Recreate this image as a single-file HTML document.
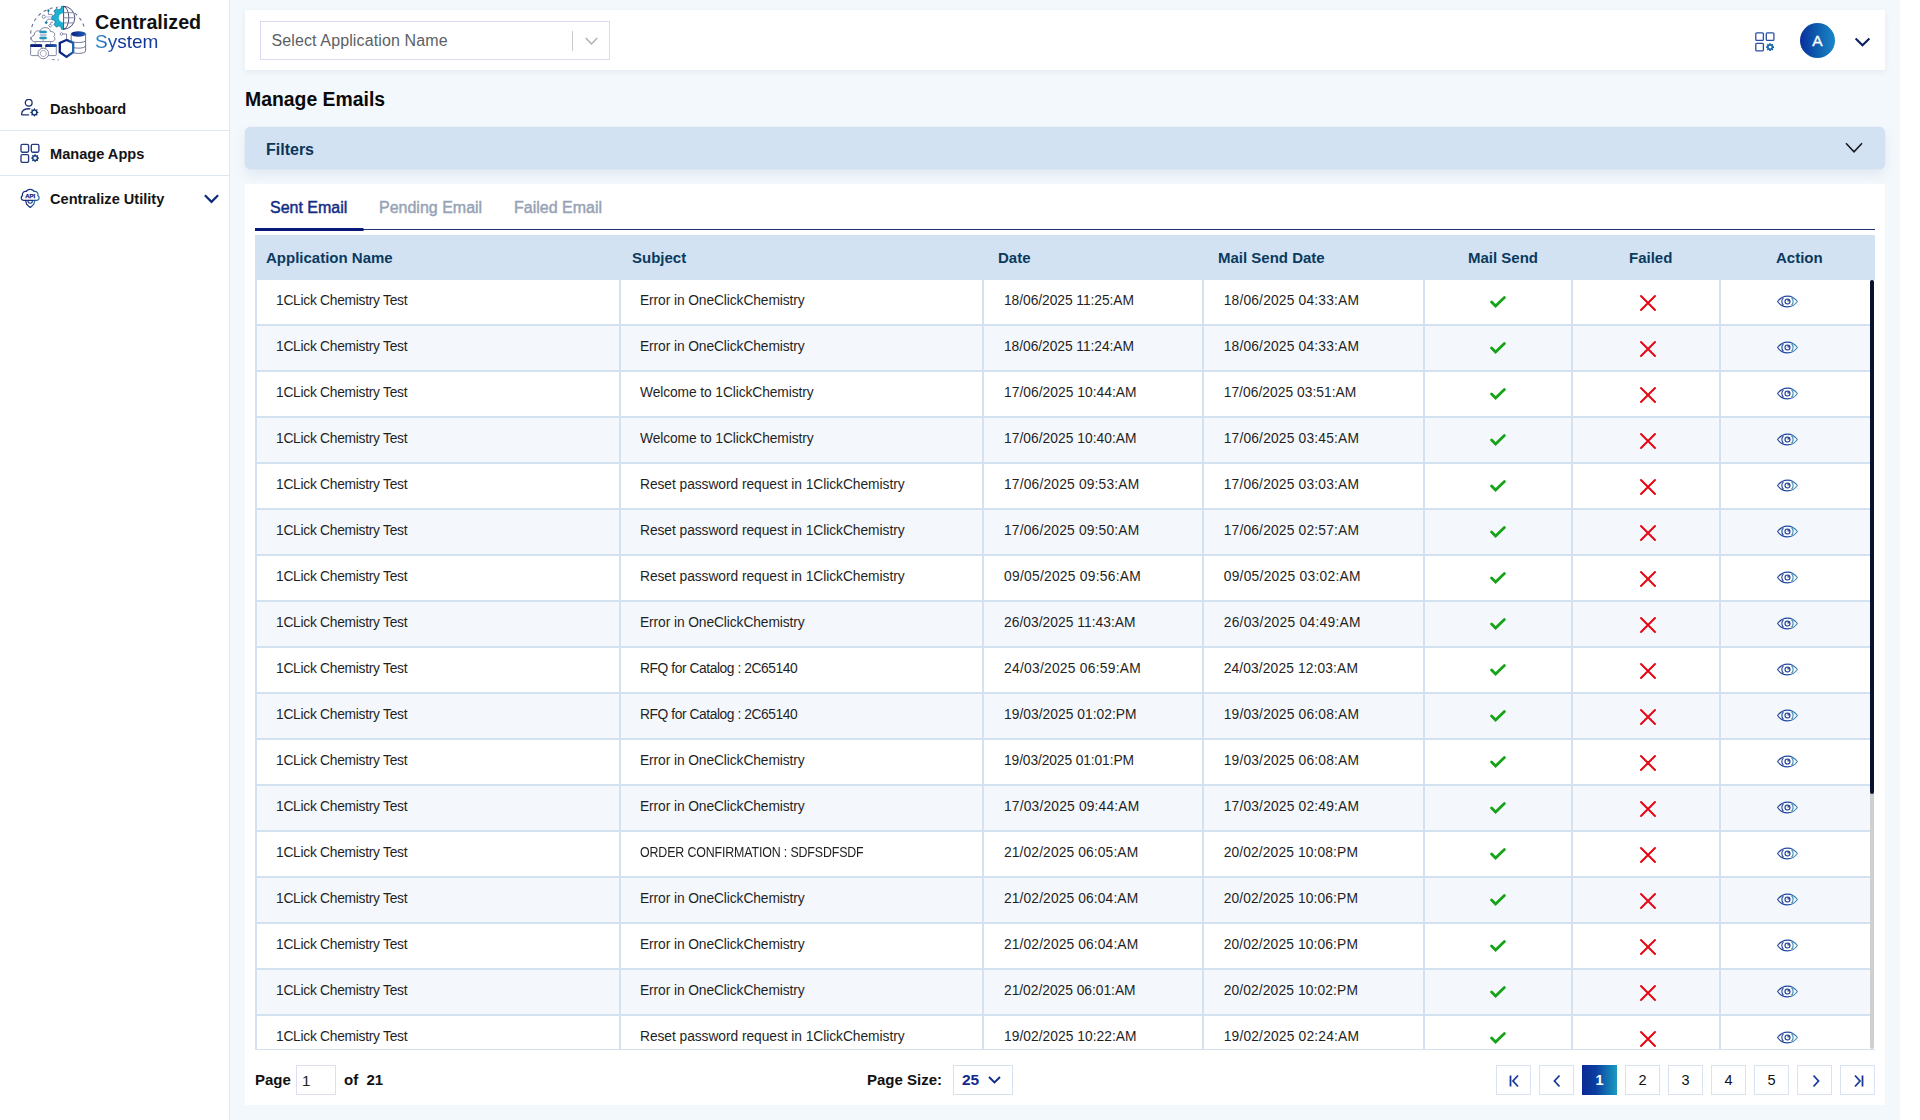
<!DOCTYPE html>
<html><head><meta charset="utf-8"><title>Manage Emails</title>
<style>
*{box-sizing:border-box;margin:0;padding:0}
html,body{width:1920px;height:1120px;overflow:hidden;background:#fff;font-family:"Liberation Sans",sans-serif;color:#1b1b1b}
#main{position:absolute;left:230px;top:0;width:1670px;height:1120px;background:#f3f8fc}
#sidebar{position:absolute;left:0;top:0;width:230px;height:1120px;background:#fff;border-right:1px solid #e3e9f1}
#logo{position:absolute;left:26px;top:3px;width:62px;height:62px}
#brand1{position:absolute;left:95px;top:10.5px;font-size:19.7px;font-weight:700;color:#111;white-space:nowrap}
#brand2{position:absolute;left:95px;top:30.8px;font-size:19px;color:#1a56b0;background:linear-gradient(90deg,#2a92cc 0%,#1d66b6 17%,#10359a 38%,#0f3194 70%,#17409f 100%);-webkit-background-clip:text;background-clip:text;-webkit-text-fill-color:transparent}
.nav{position:absolute;left:0;width:229px;height:45px}
.nav .t{position:absolute;left:50px;font-size:14.6px;font-weight:700;color:#141414;white-space:nowrap}
.nav svg{position:absolute}
.dv{position:absolute;left:0;width:229px;height:1px;background:#dde7f2}
#topbar{position:absolute;left:245px;top:10px;width:1640px;height:60px;background:#fff;box-shadow:0 2px 6px rgba(120,140,170,.12)}
#sel{position:absolute;left:15px;top:11px;width:350px;height:39px;border:1px solid #ded9f3;background:#fff}
#sel .ph{position:absolute;left:10.5px;top:10px;font-size:16px;color:#5c5f64;white-space:nowrap;letter-spacing:.12px}
#sel .sep{position:absolute;left:311px;top:9px;width:1px;height:20px;background:#c9c9c9}
#title{position:absolute;left:245px;top:88px;font-size:19.4px;font-weight:700;color:#0a0a0a;white-space:nowrap}
#filters{position:absolute;left:245px;top:127px;width:1640px;height:42px;background:#d2e2f3;border-radius:6px;box-shadow:0 0 1px rgba(120,140,170,.35),0 6px 12px rgba(130,155,195,.16)}
#filters .t{position:absolute;left:21px;top:14px;font-size:16px;font-weight:700;color:#0b3556}
#card{position:absolute;left:245px;top:184px;width:1640px;height:921px;background:#fff}
.tab{position:absolute;top:15px;font-size:16px;white-space:nowrap;-webkit-text-stroke:.45px currentColor}
#tabline{position:absolute;left:10px;top:45px;width:1620px;height:1px;background:#213774}
#tabact{position:absolute;left:10px;top:44px;width:109px;height:3px;background:#08197a;border-radius:0 2px 2px 0}
#thead{position:absolute;left:10px;top:51px;width:1620px;height:45px;background:#d2e2f3}
#thead div{position:absolute;top:13.5px;font-size:15px;font-weight:700;color:#0b3a5e;white-space:nowrap}
#tbody{position:absolute;left:255px;top:280px;width:1620px;height:770px;overflow:hidden}
#tbody .bb{position:absolute;left:0;top:769px;width:1620px;height:1px;background:#d3e1f1}
.row{position:absolute;left:0;width:1614.5px;height:46px;border-bottom:2px solid #d3e1f1}
.row.alt{background:#f4f8fd}
.row .c{position:absolute;top:0;height:44px;border-left:2px solid #d3e1f1}
.row .tx{position:absolute;top:12.5px;font-size:13.8px;color:#1f1f1f;white-space:nowrap}
.row .ic{position:absolute}
#sbtrack{position:absolute;left:1614.8px;top:0;width:4.4px;height:769px;background:#cfcfcf;border-radius:2px}
#sbthumb{position:absolute;left:1614.8px;top:0;width:4.4px;height:514px;background:#08132f;border-radius:2px}
.pg{position:absolute;top:1065px;width:35px;height:30px;border:1px solid #d9e2f0;background:#fff;font-size:14.5px;text-align:center;line-height:29px;color:#111}
.pg svg{position:absolute;left:0;top:0}
.pg.act{border:none;background:linear-gradient(90deg,#0a2a96,#0c3ea0 40%,#1a9cc2);color:#fff}
#pgl{position:absolute;left:255px;top:1071px;font-size:15px;font-weight:700;color:#111;white-space:nowrap}
#pgin{position:absolute;left:296px;top:1065px;width:40px;height:30px;border:1px solid #e0dcf3;background:#fff}
#pgin span{position:absolute;left:5px;top:6px;font-size:15px;color:#222}
#pgof{position:absolute;left:344px;top:1071px;font-size:15px;font-weight:700;color:#111;white-space:nowrap}
#pgsz{position:absolute;left:867px;top:1071px;font-size:15px;font-weight:700;color:#111;white-space:nowrap}
#pgsel{position:absolute;left:953px;top:1065px;width:60px;height:30px;border:1px solid #d3e1f1;background:#fff}
#pgsel span{position:absolute;left:8px;top:5px;font-size:15.5px;font-weight:700;color:#12298c}
</style></head>
<body>
<svg width="0" height="0" style="position:absolute">
<defs>
<linearGradient id="eyeg" x1="0" x2="1" y1="0" y2="0"><stop offset="0" stop-color="#1c3d95"/><stop offset=".6" stop-color="#1f4aa0"/><stop offset="1" stop-color="#3a8cb0"/></linearGradient>
<linearGradient id="navyg" x1="0" x2="1" y1="0" y2="0"><stop offset="0" stop-color="#2a4aa0"/><stop offset="1" stop-color="#1f5fa8"/></linearGradient>
<symbol id="chk" viewBox="0 0 16 12"><polyline points="1.6,6 5.6,10 14.4,1.6" fill="none" stroke="#17a317" stroke-width="2.8" stroke-linecap="round" stroke-linejoin="miter"/></symbol>
<symbol id="xx" viewBox="0 0 18 18"><path d="M2 2L16 16M16 2L2 16" stroke="#e30613" stroke-width="2" stroke-linecap="round"/></symbol>
<symbol id="eye" viewBox="0 0 24 14"><path d="M1.3 7C4.6 2.5 8 1.2 12 1.2S19.4 2.5 22.7 7C19.4 11.5 16 12.8 12 12.8S4.6 11.5 1.3 7Z" fill="none" stroke="url(#eyeg)" stroke-width="1.15"/><path d="M7.6 3A5.6 5.6 0 0 0 7.6 11M16.4 3A5.6 5.6 0 0 1 16.4 11" fill="none" stroke="url(#eyeg)" stroke-width="1.15"/><circle cx="12" cy="7" r="2.7" fill="none" stroke="#1c3d95" stroke-width="1.2"/><path d="M12 4.3A2.7 2.7 0 0 1 14.7 7L12 7Z" fill="#1c3d95" opacity=".85"/></symbol>
</defs></svg>
<div id="main"></div>

<div id="sidebar">
  <svg id="logo" viewBox="0 0 62 62">
    <defs>
      <linearGradient id="shg" x1="0" x2="1"><stop offset="0" stop-color="#0a1f82"/><stop offset=".55" stop-color="#0d2c8e"/><stop offset="1" stop-color="#1c66b2"/></linearGradient>
      <linearGradient id="dbg" x1="0" x2="1"><stop offset="0" stop-color="#0a1f82"/><stop offset="1" stop-color="#1f5fb5"/></linearGradient>
      <clipPath id="lh"><rect x="20" y="0" width="17.3" height="30"/></clipPath>
    </defs>
    <path d="M5.2 37.1 A27.3 27.3 0 0 1 58.5 25.3" fill="none" stroke="#6b7290" stroke-width="1.1" stroke-dasharray="3.2 3.4"/>
    <path d="M25.8 56.6H28.8M31.5 56.9H33" stroke="#8a8fa6" stroke-width="1"/>
    <circle cx="37.3" cy="14.8" r="11.7" fill="#fff"/>
    <path clip-path="url(#lh)" d="M46.28 17.21 L48.76 16.61 L48.76 12.99 L46.28 12.39 L45.35 10.15 L46.68 7.98 L44.12 5.42 L41.95 6.75 L39.71 5.82 L39.11 3.34 L35.49 3.34 L34.89 5.82 L32.65 6.75 L30.48 5.42 L27.92 7.98 L29.25 10.15 L28.32 12.39 L25.84 12.99 L25.84 16.61 L28.32 17.21 L29.25 19.45 L27.92 21.62 L30.48 24.18 L32.65 22.85 L34.89 23.78 L35.49 26.26 L39.11 26.26 L39.71 23.78 L41.95 22.85 L44.12 24.18 L46.68 21.62 L45.35 19.45Z" fill="#1fb0d2" stroke="#0f6f92" stroke-width=".7"/>
    <path d="M37.3 10.2 A4.6 4.6 0 0 0 37.3 19.4Z" fill="#fff"/>
    <g fill="none" stroke="#2b3266" stroke-width=".85">
      <path d="M37.3 3.3 A11.5 11.5 0 0 1 37.3 26.3"/>
      <path d="M37.3 3.3 A5.5 11.5 0 0 1 37.3 26.3"/>
      <path d="M37.6 3.3 V26.3"/>
      <path d="M37.3 14.8 H48.8 M37.6 9.7 H47.5 M37.6 19.9 H47.5" stroke="#6c7290"/>
    </g>
    <g fill="none" stroke="#6c7290" stroke-width=".8">
      <path d="M19.4 13.7 H26 M22.4 9.5 V11.4 H26.5 M20.2 18.6 L22 16.2 H26.5 M24.3 21.4 L25.2 19.2 H27"/>
      <circle cx="17.75" cy="13.7" r="1.6"/>
      <rect x="23.2" y="21.5" width="2.3" height="2.3" transform="rotate(45 24.3 22.6)"/>
    </g>
    <path d="M19.4 13.7 H25.8" stroke="#d8d6f2" stroke-width="1.4"/>
    <g fill="#15709a"><path d="M22.4 6.3 C23.8 6.3 23.9 8.3 22.4 9.7 C20.9 8.3 21 6.3 22.4 6.3Z"/><rect x="19.1" y="18.4" width="2.3" height="2.3" transform="rotate(45 20.2 19.5)"/></g>
    <!-- cloud -->
    <path d="M8.3 38.6 C4.8 38.6 4.4 32.6 8.2 32.2 C8 28.6 11.4 27 13.8 28.2 C15.3 23.4 23.6 23.2 24.6 28.6 C28.2 28.2 30 31.6 27.8 33.4 C30 35.6 28.4 38.6 26 38.6 Z" fill="#fff" stroke="#787c96" stroke-width=".95"/>
    <g fill="#24a9cf" stroke="#0f6f92" stroke-width=".5"><rect x="13.6" y="27.9" width="7" height="2" rx=".9"/><rect x="13.6" y="33.9" width="7" height="2" rx=".9"/></g>
    <rect x="13.6" y="30.9" width="7" height="2" rx=".9" fill="#b9c2d6"/>
    <path d="M17.1 35.9 V39.2" stroke="#9aa7c8" stroke-width="1.2"/>
    <path d="M9.2 38.6 V41.2 M24.5 38.6 V41.2" stroke="#8a8fa6" stroke-width=".8"/>
    <!-- windows -->
    <rect x="4.6" y="41.5" width="11.1" height="11.1" rx="1" fill="#fff" stroke="#6b7290" stroke-width=".85"/>
    <rect x="4.2" y="41.2" width="11.9" height="2.7" rx="1" fill="#0a1f82"/>
    <rect x="19.7" y="41.5" width="10.6" height="11.1" rx="1" fill="#fff" stroke="#6b7290" stroke-width=".85"/>
    <rect x="19.3" y="41.2" width="11.4" height="2.7" rx="1" fill="url(#dbg)"/>
    <circle cx="17.3" cy="50.5" r="5.3" fill="#fff" stroke="#6b7290" stroke-width=".85"/>
    <circle cx="17.3" cy="50.5" r="3" fill="none" stroke="#6b7290" stroke-width=".85" stroke-dasharray="1.4 .6"/>
    <!-- db -->
    <path d="M45.2 31 V48 C45.2 51.2 59.6 51.2 59.6 48 V31" fill="#fff" stroke="#6b7290" stroke-width=".95"/>
    <path d="M45.2 37.3 C45.2 40.3 59.6 40.3 59.6 37.3 M45.2 42.9 C45.2 45.9 59.6 45.9 59.6 42.9" fill="none" stroke="#6b7290" stroke-width=".95"/>
    <ellipse cx="52.4" cy="31" rx="7.4" ry="2.7" fill="url(#dbg)"/>
    <!-- shield -->
    <path d="M40.5 36.9 L47.2 40 V49.2 L40.5 53.9 L33.8 49.2 V40 Z" fill="#fff" stroke="url(#shg)" stroke-width="2.3" stroke-linejoin="miter"/>
    <path d="M36.8 31 H40.5 V35.8" fill="none" stroke="#6b7290" stroke-width=".85"/>
    <rect x="34.3" y="29.9" width="2.2" height="2.2" transform="rotate(45 35.4 31)" fill="#fff" stroke="#6b7290" stroke-width=".8"/>
  </svg>
  <div id="brand1">Centralized</div>
  <div id="brand2">System</div>

  <div class="nav" style="top:86px">
    <svg style="left:20px;top:13px" width="20" height="18" viewBox="0 0 20 18">
      <circle cx="8.7" cy="3.75" r="3.4" fill="none" stroke="#1b2d70" stroke-width="1.3"/>
      <path d="M9.7 9.7 C5 9.5 1.6 11.3 1.6 15 Q1.6 15.9 2.5 15.9 H8.6" fill="none" stroke="#1f3378" stroke-width="1.4" stroke-linecap="round"/>
      <path fill-rule="evenodd" fill="#0f3673" d="M14.40 9.00 L13.25 10.63 L11.29 10.29 L11.63 12.25 L10.00 13.40 L11.63 14.55 L11.29 16.51 L13.25 16.17 L14.40 17.80 L15.55 16.17 L17.51 16.51 L17.17 14.55 L18.80 13.40 L17.17 12.25 L17.51 10.29 L15.55 10.63ZM16.15 13.40 A1.75 1.75 0 1 0 12.65 13.40 A1.75 1.75 0 1 0 16.15 13.40Z"/>
    </svg>
    <div class="t" style="top:15px">Dashboard</div>
  </div>
  <div class="dv" style="top:130px"></div>
  <div class="nav" style="top:131px">
    <svg style="left:20px;top:12px" width="20" height="20" viewBox="0 0 20 20">
      <g fill="none" stroke="#25397f" stroke-width="1.35"><rect x="1" y="1.4" width="7.6" height="7.8" rx="1.4"/><rect x="11.3" y="1.4" width="7.6" height="7.8" rx="1.4"/><rect x="1" y="11.6" width="7.6" height="7.8" rx="1.4"/></g>
      <path fill-rule="evenodd" fill="#0d3a78" d="M15.10 10.80 L13.99 12.42 L12.06 12.06 L12.42 13.99 L10.80 15.10 L12.42 16.21 L12.06 18.14 L13.99 17.78 L15.10 19.40 L16.21 17.78 L18.14 18.14 L17.78 16.21 L19.40 15.10 L17.78 13.99 L18.14 12.06 L16.21 12.42ZM16.80 15.10 A1.7 1.7 0 1 0 13.40 15.10 A1.7 1.7 0 1 0 16.80 15.10Z"/>
    </svg>
    <div class="t" style="top:15px">Manage Apps</div>
  </div>
  <div class="dv" style="top:175px"></div>
  <div class="nav" style="top:176px">
    <svg style="left:20px;top:12px" width="21" height="21" viewBox="0 0 21 21">
      <defs><linearGradient id="apig" x1="0" x2="1"><stop offset="0" stop-color="#142a78"/><stop offset=".6" stop-color="#1a3684"/><stop offset="1" stop-color="#2a76aa"/></linearGradient></defs>
      <path d="M3.6 12.4 C0.9 12.2 0.4 8.8 2.5 7.6 C1.8 4.9 3.9 3 6.3 3.5 C7.3 0.7 12.9 0.5 14.1 3.5 C16.6 3 18.6 4.9 17.9 7.6 C20 8.8 19.5 12.2 16.8 12.4 Z" fill="none" stroke="url(#apig)" stroke-width="1.25" stroke-linejoin="round"/>
      <text x="10.2" y="10.1" text-anchor="middle" font-family="Liberation Sans" font-weight="700" font-size="6" fill="#14237a" stroke="#14237a" stroke-width=".25">API</text>
      <path d="M5.6 12.6 L6.6 16.2 L8.4 17.9 L10.2 19.4 L12 17.9 L13.8 16.2 L14.8 12.6" fill="none" stroke="url(#apig)" stroke-width="1.25" stroke-linejoin="round"/>
      <path d="M8 12.8 A2.2 2.4 0 0 0 12.4 12.8" fill="none" stroke="#1a3080" stroke-width="1.1"/>
    </svg>
    <div class="t" style="top:15px">Centralize Utility</div>
    <svg style="left:204px;top:17.5px" width="15" height="10" viewBox="0 0 15 10"><polyline points="0.9,1.3 7.5,7.9 14.1,1.3" fill="none" stroke="#0d2a7c" stroke-width="2.2"/></svg>
  </div>
</div>

<div id="topbar">
  <div id="sel"><div class="ph">Select Application Name</div><div class="sep"></div>
    <svg style="position:absolute;left:324px;top:15px" width="13" height="9" viewBox="0 0 13 9"><polyline points="0.8,1 6.5,7 12.2,1" fill="none" stroke="#b0b0b0" stroke-width="1.5"/></svg>
  </div>
  <svg style="position:absolute;left:1510px;top:22px" width="20" height="20" viewBox="0 0 20 20">
    <g fill="none" stroke="#2a4ea2" stroke-width="1.3"><rect x=".8" y=".8" width="7.6" height="7.6" rx="1"/><rect x="11.3" y=".8" width="7.6" height="7.6" rx="1"/><rect x=".8" y="11.3" width="7.6" height="7.6" rx="1"/></g>
    <circle cx="15.1" cy="15.1" r="2.3" fill="none" stroke="#1a66b0" stroke-width="1.7"/>
    <path d="M15.1 11.2V12.4M15.1 17.8V19M11.2 15.1H12.4M17.8 15.1H19M12.3 12.3L13.2 13.2M17 17L17.9 17.9M17.9 12.3L17 13.2M13.2 17L12.3 17.9" stroke="#1a66b0" stroke-width="1.7"/>
  </svg>
  <div style="position:absolute;left:1555px;top:13px;width:35px;height:35px;border-radius:50%;background:linear-gradient(90deg,#0a2f9c,#0f5fb0 50%,#1a86c6);color:#fff;text-align:center;line-height:35px;font-size:15.5px;-webkit-text-stroke:.35px #fff">A</div>
  <svg style="position:absolute;left:1609px;top:27px" width="17" height="11" viewBox="0 0 17 11"><polyline points="1.6,1.6 8.5,8.2 15.4,1.6" fill="none" stroke="#0a1f5c" stroke-width="2.1"/></svg>
</div>

<div id="title">Manage Emails</div>
<div id="filters"><div class="t">Filters</div>
  <svg style="position:absolute;left:1600px;top:15px" width="18" height="12" viewBox="0 0 18 12"><polyline points="1,1.3 9,9.8 17,1.3" fill="none" stroke="#151a22" stroke-width="1.6"/></svg>
</div>

<div id="card">
  <div class="tab" style="left:25px;color:#132c86">Sent Email</div>
  <div class="tab" style="left:134px;color:#97a3b6">Pending Email</div>
  <div class="tab" style="left:269px;color:#97a3b6">Failed Email</div>
  <div id="tabline"></div><div id="tabact"></div>
  <div id="thead">
    <div style="left:11px">Application Name</div>
    <div style="left:377px">Subject</div>
    <div style="left:743px">Date</div>
    <div style="left:963px">Mail Send Date</div>
    <div style="left:1213px">Mail Send</div>
    <div style="left:1374px">Failed</div>
    <div style="left:1521px">Action</div>
  </div>
</div>

<div id="tbody">
<div class="row" style="top:0px"><div class="c" style="left:0px;width:364px"></div><div class="c" style="left:364px;width:363px"></div><div class="c" style="left:727px;width:220px"></div><div class="c" style="left:947px;width:221px"></div><div class="c" style="left:1168px;width:148px"></div><div class="c" style="left:1316px;width:148px"></div><div class="c" style="left:1464px;width:150.5px"></div><div class="tx" style="left:21px;letter-spacing:-0.275px">1CLick Chemistry Test</div><div class="tx" style="left:385px;letter-spacing:-0.097px">Error in OneClickChemistry</div><div class="tx" style="left:749px;letter-spacing:-0.051px">18/06/2025 11:25:AM</div><div class="tx" style="left:968.7px;letter-spacing:0.181px">18/06/2025 04:33:AM</div><svg class="ic" style="left:1235px;top:16px" width="16" height="12"><use href="#chk"/></svg><svg class="ic" style="left:1384px;top:14px" width="18" height="18"><use href="#xx"/></svg><svg class="ic" style="left:1520.5px;top:14.5px" width="23" height="13"><use href="#eye"/></svg></div>
<div class="row alt" style="top:46px"><div class="c" style="left:0px;width:364px"></div><div class="c" style="left:364px;width:363px"></div><div class="c" style="left:727px;width:220px"></div><div class="c" style="left:947px;width:221px"></div><div class="c" style="left:1168px;width:148px"></div><div class="c" style="left:1316px;width:148px"></div><div class="c" style="left:1464px;width:150.5px"></div><div class="tx" style="left:21px;letter-spacing:-0.275px">1CLick Chemistry Test</div><div class="tx" style="left:385px;letter-spacing:-0.097px">Error in OneClickChemistry</div><div class="tx" style="left:749px;letter-spacing:-0.051px">18/06/2025 11:24:AM</div><div class="tx" style="left:968.7px;letter-spacing:0.181px">18/06/2025 04:33:AM</div><svg class="ic" style="left:1235px;top:16px" width="16" height="12"><use href="#chk"/></svg><svg class="ic" style="left:1384px;top:14px" width="18" height="18"><use href="#xx"/></svg><svg class="ic" style="left:1520.5px;top:14.5px" width="23" height="13"><use href="#eye"/></svg></div>
<div class="row" style="top:92px"><div class="c" style="left:0px;width:364px"></div><div class="c" style="left:364px;width:363px"></div><div class="c" style="left:727px;width:220px"></div><div class="c" style="left:947px;width:221px"></div><div class="c" style="left:1168px;width:148px"></div><div class="c" style="left:1316px;width:148px"></div><div class="c" style="left:1464px;width:150.5px"></div><div class="tx" style="left:21px;letter-spacing:-0.275px">1CLick Chemistry Test</div><div class="tx" style="left:385px;letter-spacing:-0.099px">Welcome to 1ClickChemistry</div><div class="tx" style="left:749px;letter-spacing:0.036px">17/06/2025 10:44:AM</div><div class="tx" style="left:968.7px;letter-spacing:0.036px">17/06/2025 03:51:AM</div><svg class="ic" style="left:1235px;top:16px" width="16" height="12"><use href="#chk"/></svg><svg class="ic" style="left:1384px;top:14px" width="18" height="18"><use href="#xx"/></svg><svg class="ic" style="left:1520.5px;top:14.5px" width="23" height="13"><use href="#eye"/></svg></div>
<div class="row alt" style="top:138px"><div class="c" style="left:0px;width:364px"></div><div class="c" style="left:364px;width:363px"></div><div class="c" style="left:727px;width:220px"></div><div class="c" style="left:947px;width:221px"></div><div class="c" style="left:1168px;width:148px"></div><div class="c" style="left:1316px;width:148px"></div><div class="c" style="left:1464px;width:150.5px"></div><div class="tx" style="left:21px;letter-spacing:-0.275px">1CLick Chemistry Test</div><div class="tx" style="left:385px;letter-spacing:-0.099px">Welcome to 1ClickChemistry</div><div class="tx" style="left:749px;letter-spacing:0.036px">17/06/2025 10:40:AM</div><div class="tx" style="left:968.7px;letter-spacing:0.181px">17/06/2025 03:45:AM</div><svg class="ic" style="left:1235px;top:16px" width="16" height="12"><use href="#chk"/></svg><svg class="ic" style="left:1384px;top:14px" width="18" height="18"><use href="#xx"/></svg><svg class="ic" style="left:1520.5px;top:14.5px" width="23" height="13"><use href="#eye"/></svg></div>
<div class="row" style="top:184px"><div class="c" style="left:0px;width:364px"></div><div class="c" style="left:364px;width:363px"></div><div class="c" style="left:727px;width:220px"></div><div class="c" style="left:947px;width:221px"></div><div class="c" style="left:1168px;width:148px"></div><div class="c" style="left:1316px;width:148px"></div><div class="c" style="left:1464px;width:150.5px"></div><div class="tx" style="left:21px;letter-spacing:-0.275px">1CLick Chemistry Test</div><div class="tx" style="left:385px;letter-spacing:-0.056px">Reset password request in 1ClickChemistry</div><div class="tx" style="left:749px;letter-spacing:0.181px">17/06/2025 09:53:AM</div><div class="tx" style="left:968.7px;letter-spacing:0.181px">17/06/2025 03:03:AM</div><svg class="ic" style="left:1235px;top:16px" width="16" height="12"><use href="#chk"/></svg><svg class="ic" style="left:1384px;top:14px" width="18" height="18"><use href="#xx"/></svg><svg class="ic" style="left:1520.5px;top:14.5px" width="23" height="13"><use href="#eye"/></svg></div>
<div class="row alt" style="top:230px"><div class="c" style="left:0px;width:364px"></div><div class="c" style="left:364px;width:363px"></div><div class="c" style="left:727px;width:220px"></div><div class="c" style="left:947px;width:221px"></div><div class="c" style="left:1168px;width:148px"></div><div class="c" style="left:1316px;width:148px"></div><div class="c" style="left:1464px;width:150.5px"></div><div class="tx" style="left:21px;letter-spacing:-0.275px">1CLick Chemistry Test</div><div class="tx" style="left:385px;letter-spacing:-0.056px">Reset password request in 1ClickChemistry</div><div class="tx" style="left:749px;letter-spacing:0.181px">17/06/2025 09:50:AM</div><div class="tx" style="left:968.7px;letter-spacing:0.181px">17/06/2025 02:57:AM</div><svg class="ic" style="left:1235px;top:16px" width="16" height="12"><use href="#chk"/></svg><svg class="ic" style="left:1384px;top:14px" width="18" height="18"><use href="#xx"/></svg><svg class="ic" style="left:1520.5px;top:14.5px" width="23" height="13"><use href="#eye"/></svg></div>
<div class="row" style="top:276px"><div class="c" style="left:0px;width:364px"></div><div class="c" style="left:364px;width:363px"></div><div class="c" style="left:727px;width:220px"></div><div class="c" style="left:947px;width:221px"></div><div class="c" style="left:1168px;width:148px"></div><div class="c" style="left:1316px;width:148px"></div><div class="c" style="left:1464px;width:150.5px"></div><div class="tx" style="left:21px;letter-spacing:-0.275px">1CLick Chemistry Test</div><div class="tx" style="left:385px;letter-spacing:-0.056px">Reset password request in 1ClickChemistry</div><div class="tx" style="left:749px;letter-spacing:0.27px">09/05/2025 09:56:AM</div><div class="tx" style="left:968.7px;letter-spacing:0.27px">09/05/2025 03:02:AM</div><svg class="ic" style="left:1235px;top:16px" width="16" height="12"><use href="#chk"/></svg><svg class="ic" style="left:1384px;top:14px" width="18" height="18"><use href="#xx"/></svg><svg class="ic" style="left:1520.5px;top:14.5px" width="23" height="13"><use href="#eye"/></svg></div>
<div class="row alt" style="top:322px"><div class="c" style="left:0px;width:364px"></div><div class="c" style="left:364px;width:363px"></div><div class="c" style="left:727px;width:220px"></div><div class="c" style="left:947px;width:221px"></div><div class="c" style="left:1168px;width:148px"></div><div class="c" style="left:1316px;width:148px"></div><div class="c" style="left:1464px;width:150.5px"></div><div class="tx" style="left:21px;letter-spacing:-0.275px">1CLick Chemistry Test</div><div class="tx" style="left:385px;letter-spacing:-0.097px">Error in OneClickChemistry</div><div class="tx" style="left:749px;letter-spacing:0.038px">26/03/2025 11:43:AM</div><div class="tx" style="left:968.7px;letter-spacing:0.27px">26/03/2025 04:49:AM</div><svg class="ic" style="left:1235px;top:16px" width="16" height="12"><use href="#chk"/></svg><svg class="ic" style="left:1384px;top:14px" width="18" height="18"><use href="#xx"/></svg><svg class="ic" style="left:1520.5px;top:14.5px" width="23" height="13"><use href="#eye"/></svg></div>
<div class="row" style="top:368px"><div class="c" style="left:0px;width:364px"></div><div class="c" style="left:364px;width:363px"></div><div class="c" style="left:727px;width:220px"></div><div class="c" style="left:947px;width:221px"></div><div class="c" style="left:1168px;width:148px"></div><div class="c" style="left:1316px;width:148px"></div><div class="c" style="left:1464px;width:150.5px"></div><div class="tx" style="left:21px;letter-spacing:-0.275px">1CLick Chemistry Test</div><div class="tx" style="left:385px;letter-spacing:-0.428px">RFQ for Catalog : 2C65140</div><div class="tx" style="left:749px;letter-spacing:0.27px">24/03/2025 06:59:AM</div><div class="tx" style="left:968.7px;letter-spacing:0.125px">24/03/2025 12:03:AM</div><svg class="ic" style="left:1235px;top:16px" width="16" height="12"><use href="#chk"/></svg><svg class="ic" style="left:1384px;top:14px" width="18" height="18"><use href="#xx"/></svg><svg class="ic" style="left:1520.5px;top:14.5px" width="23" height="13"><use href="#eye"/></svg></div>
<div class="row alt" style="top:414px"><div class="c" style="left:0px;width:364px"></div><div class="c" style="left:364px;width:363px"></div><div class="c" style="left:727px;width:220px"></div><div class="c" style="left:947px;width:221px"></div><div class="c" style="left:1168px;width:148px"></div><div class="c" style="left:1316px;width:148px"></div><div class="c" style="left:1464px;width:150.5px"></div><div class="tx" style="left:21px;letter-spacing:-0.275px">1CLick Chemistry Test</div><div class="tx" style="left:385px;letter-spacing:-0.428px">RFQ for Catalog : 2C65140</div><div class="tx" style="left:749px;letter-spacing:0.036px">19/03/2025 01:02:PM</div><div class="tx" style="left:968.7px;letter-spacing:0.181px">19/03/2025 06:08:AM</div><svg class="ic" style="left:1235px;top:16px" width="16" height="12"><use href="#chk"/></svg><svg class="ic" style="left:1384px;top:14px" width="18" height="18"><use href="#xx"/></svg><svg class="ic" style="left:1520.5px;top:14.5px" width="23" height="13"><use href="#eye"/></svg></div>
<div class="row" style="top:460px"><div class="c" style="left:0px;width:364px"></div><div class="c" style="left:364px;width:363px"></div><div class="c" style="left:727px;width:220px"></div><div class="c" style="left:947px;width:221px"></div><div class="c" style="left:1168px;width:148px"></div><div class="c" style="left:1316px;width:148px"></div><div class="c" style="left:1464px;width:150.5px"></div><div class="tx" style="left:21px;letter-spacing:-0.275px">1CLick Chemistry Test</div><div class="tx" style="left:385px;letter-spacing:-0.097px">Error in OneClickChemistry</div><div class="tx" style="left:749px;letter-spacing:-0.108px">19/03/2025 01:01:PM</div><div class="tx" style="left:968.7px;letter-spacing:0.181px">19/03/2025 06:08:AM</div><svg class="ic" style="left:1235px;top:16px" width="16" height="12"><use href="#chk"/></svg><svg class="ic" style="left:1384px;top:14px" width="18" height="18"><use href="#xx"/></svg><svg class="ic" style="left:1520.5px;top:14.5px" width="23" height="13"><use href="#eye"/></svg></div>
<div class="row alt" style="top:506px"><div class="c" style="left:0px;width:364px"></div><div class="c" style="left:364px;width:363px"></div><div class="c" style="left:727px;width:220px"></div><div class="c" style="left:947px;width:221px"></div><div class="c" style="left:1168px;width:148px"></div><div class="c" style="left:1316px;width:148px"></div><div class="c" style="left:1464px;width:150.5px"></div><div class="tx" style="left:21px;letter-spacing:-0.275px">1CLick Chemistry Test</div><div class="tx" style="left:385px;letter-spacing:-0.097px">Error in OneClickChemistry</div><div class="tx" style="left:749px;letter-spacing:0.181px">17/03/2025 09:44:AM</div><div class="tx" style="left:968.7px;letter-spacing:0.181px">17/03/2025 02:49:AM</div><svg class="ic" style="left:1235px;top:16px" width="16" height="12"><use href="#chk"/></svg><svg class="ic" style="left:1384px;top:14px" width="18" height="18"><use href="#xx"/></svg><svg class="ic" style="left:1520.5px;top:14.5px" width="23" height="13"><use href="#eye"/></svg></div>
<div class="row" style="top:552px"><div class="c" style="left:0px;width:364px"></div><div class="c" style="left:364px;width:363px"></div><div class="c" style="left:727px;width:220px"></div><div class="c" style="left:947px;width:221px"></div><div class="c" style="left:1168px;width:148px"></div><div class="c" style="left:1316px;width:148px"></div><div class="c" style="left:1464px;width:150.5px"></div><div class="tx" style="left:21px;letter-spacing:-0.275px">1CLick Chemistry Test</div><div class="tx" style="left:385px;letter-spacing:-0.15px;transform:scaleX(0.898);transform-origin:0 0">ORDER CONFIRMATION : SDFSDFSDF</div><div class="tx" style="left:749px;letter-spacing:0.125px">21/02/2025 06:05:AM</div><div class="tx" style="left:968.7px;letter-spacing:0.125px">20/02/2025 10:08:PM</div><svg class="ic" style="left:1235px;top:16px" width="16" height="12"><use href="#chk"/></svg><svg class="ic" style="left:1384px;top:14px" width="18" height="18"><use href="#xx"/></svg><svg class="ic" style="left:1520.5px;top:14.5px" width="23" height="13"><use href="#eye"/></svg></div>
<div class="row alt" style="top:598px"><div class="c" style="left:0px;width:364px"></div><div class="c" style="left:364px;width:363px"></div><div class="c" style="left:727px;width:220px"></div><div class="c" style="left:947px;width:221px"></div><div class="c" style="left:1168px;width:148px"></div><div class="c" style="left:1316px;width:148px"></div><div class="c" style="left:1464px;width:150.5px"></div><div class="tx" style="left:21px;letter-spacing:-0.275px">1CLick Chemistry Test</div><div class="tx" style="left:385px;letter-spacing:-0.097px">Error in OneClickChemistry</div><div class="tx" style="left:749px;letter-spacing:0.125px">21/02/2025 06:04:AM</div><div class="tx" style="left:968.7px;letter-spacing:0.125px">20/02/2025 10:06:PM</div><svg class="ic" style="left:1235px;top:16px" width="16" height="12"><use href="#chk"/></svg><svg class="ic" style="left:1384px;top:14px" width="18" height="18"><use href="#xx"/></svg><svg class="ic" style="left:1520.5px;top:14.5px" width="23" height="13"><use href="#eye"/></svg></div>
<div class="row" style="top:644px"><div class="c" style="left:0px;width:364px"></div><div class="c" style="left:364px;width:363px"></div><div class="c" style="left:727px;width:220px"></div><div class="c" style="left:947px;width:221px"></div><div class="c" style="left:1168px;width:148px"></div><div class="c" style="left:1316px;width:148px"></div><div class="c" style="left:1464px;width:150.5px"></div><div class="tx" style="left:21px;letter-spacing:-0.275px">1CLick Chemistry Test</div><div class="tx" style="left:385px;letter-spacing:-0.097px">Error in OneClickChemistry</div><div class="tx" style="left:749px;letter-spacing:0.125px">21/02/2025 06:04:AM</div><div class="tx" style="left:968.7px;letter-spacing:0.125px">20/02/2025 10:06:PM</div><svg class="ic" style="left:1235px;top:16px" width="16" height="12"><use href="#chk"/></svg><svg class="ic" style="left:1384px;top:14px" width="18" height="18"><use href="#xx"/></svg><svg class="ic" style="left:1520.5px;top:14.5px" width="23" height="13"><use href="#eye"/></svg></div>
<div class="row alt" style="top:690px"><div class="c" style="left:0px;width:364px"></div><div class="c" style="left:364px;width:363px"></div><div class="c" style="left:727px;width:220px"></div><div class="c" style="left:947px;width:221px"></div><div class="c" style="left:1168px;width:148px"></div><div class="c" style="left:1316px;width:148px"></div><div class="c" style="left:1464px;width:150.5px"></div><div class="tx" style="left:21px;letter-spacing:-0.275px">1CLick Chemistry Test</div><div class="tx" style="left:385px;letter-spacing:-0.097px">Error in OneClickChemistry</div><div class="tx" style="left:749px;letter-spacing:-0.019px">21/02/2025 06:01:AM</div><div class="tx" style="left:968.7px;letter-spacing:0.125px">20/02/2025 10:02:PM</div><svg class="ic" style="left:1235px;top:16px" width="16" height="12"><use href="#chk"/></svg><svg class="ic" style="left:1384px;top:14px" width="18" height="18"><use href="#xx"/></svg><svg class="ic" style="left:1520.5px;top:14.5px" width="23" height="13"><use href="#eye"/></svg></div>
<div class="row" style="top:736px"><div class="c" style="left:0px;width:364px"></div><div class="c" style="left:364px;width:363px"></div><div class="c" style="left:727px;width:220px"></div><div class="c" style="left:947px;width:221px"></div><div class="c" style="left:1168px;width:148px"></div><div class="c" style="left:1316px;width:148px"></div><div class="c" style="left:1464px;width:150.5px"></div><div class="tx" style="left:21px;letter-spacing:-0.275px">1CLick Chemistry Test</div><div class="tx" style="left:385px;letter-spacing:-0.056px">Reset password request in 1ClickChemistry</div><div class="tx" style="left:749px;letter-spacing:0.036px">19/02/2025 10:22:AM</div><div class="tx" style="left:968.7px;letter-spacing:0.181px">19/02/2025 02:24:AM</div><svg class="ic" style="left:1235px;top:16px" width="16" height="12"><use href="#chk"/></svg><svg class="ic" style="left:1384px;top:14px" width="18" height="18"><use href="#xx"/></svg><svg class="ic" style="left:1520.5px;top:14.5px" width="23" height="13"><use href="#eye"/></svg></div>
<div class="bb"></div>
<div id="sbtrack"></div><div id="sbthumb"></div>
</div>

<div id="pgl">Page</div>
<div id="pgin"><span>1</span></div>
<div id="pgof">of&nbsp; 21</div>
<div id="pgsz">Page Size:</div>
<div id="pgsel"><span>25</span>
  <svg style="position:absolute;left:34px;top:10px" width="13" height="8" viewBox="0 0 13 8"><polyline points="1,1 6.5,6.5 12,1" fill="none" stroke="#12298c" stroke-width="1.9"/></svg>
</div>

<div class="pg" style="left:1496px"><svg width="35" height="30" viewBox="0 0 35 30"><path d="M13.5 9.5V20.5" stroke="#1a3a9a" stroke-width="1.8"/><polyline points="21,9.5 16,15 21,20.5" fill="none" stroke="#1a3a9a" stroke-width="1.8"/></svg></div>
<div class="pg" style="left:1539px"><svg width="35" height="30" viewBox="0 0 35 30"><polyline points="19.5,9.5 14.5,15 19.5,20.5" fill="none" stroke="#1a3a9a" stroke-width="1.8"/></svg></div>
<div class="pg act" style="left:1582px;line-height:31px;font-weight:700">1</div>
<div class="pg" style="left:1625px">2</div>
<div class="pg" style="left:1668px">3</div>
<div class="pg" style="left:1711px">4</div>
<div class="pg" style="left:1754px">5</div>
<div class="pg" style="left:1797px"><svg width="35" height="30" viewBox="0 0 35 30"><polyline points="15.5,9.5 20.5,15 15.5,20.5" fill="none" stroke="#1a3a9a" stroke-width="1.8"/></svg></div>
<div class="pg" style="left:1840px"><svg width="35" height="30" viewBox="0 0 35 30"><polyline points="14,9.5 19,15 14,20.5" fill="none" stroke="#1a3a9a" stroke-width="1.8"/><path d="M21.5 9.5V20.5" stroke="#1a3a9a" stroke-width="1.8"/></svg></div>
</body></html>
